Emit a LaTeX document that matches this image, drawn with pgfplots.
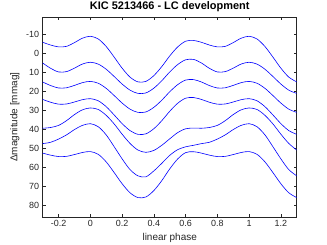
\documentclass[border=0pt]{standalone}
\usepackage{pgfplots}
\usepackage{pgfplotstable}
\pgfplotsset{compat=1.18}
\usepackage{fontspec}
\setmainfont{Liberation Sans}
\definecolor{axgray}{rgb}{0.15,0.15,0.15}
\definecolor{lcblue}{rgb}{0,0,1}
\pgfplotstableread{
x c1 c2 c3 c4 c5 c6 c7
-0.30 -5.82 5.10 15.11 24.31 39.5 47.6 52.61
-0.25 -4.38 7.90 16.99 25.79 39.1 46.9 53.69
-0.20 -3.40 9.81 18.27 26.80 38.0 45.2 54.43
-0.15 -3.68 9.64 18.16 26.70 35.5 43.0 54.32
-0.10 -5.65 7.81 16.91 25.66 32.3 40.2 53.38
-0.05 -7.97 5.65 15.45 24.44 29.8 38.0 52.29
0.00 -9.00 4.70 14.80 23.90 28.8 37.1 51.80
0.05 -7.57 5.68 15.77 25.02 29.6 38.7 53.25
0.10 -3.61 8.39 18.46 28.12 32.7 43.0 57.24
0.15 1.96 12.19 22.24 32.47 37.2 49.2 62.85
0.20 7.79 16.17 26.20 37.03 42.6 55.6 68.73
0.25 12.53 19.41 29.42 40.73 47.5 61.3 73.51
0.30 15.06 21.13 31.14 42.71 51.0 64.6 76.06
0.35 14.79 20.88 30.90 42.45 52.2 65.1 75.74
0.40 11.75 18.37 28.48 39.75 51.2 62.0 72.38
0.45 7.00 14.46 24.72 35.53 48.5 58.0 67.14
0.50 1.40 9.84 20.28 30.57 45.1 53.8 60.96
0.55 -3.35 5.93 16.52 26.35 41.8 50.8 55.72
0.60 -6.39 3.42 14.10 23.65 39.8 49.3 52.36
0.65 -6.80 3.19 13.83 23.30 39.4 48.5 51.87
0.70 -5.82 5.10 15.11 24.31 39.5 47.6 52.61
0.75 -4.38 7.90 16.99 25.79 39.1 46.9 53.69
0.80 -3.40 9.81 18.27 26.80 38.0 45.2 54.43
0.85 -3.68 9.64 18.16 26.70 35.5 43.0 54.32
0.90 -5.65 7.81 16.91 25.66 32.3 40.2 53.38
0.95 -7.97 5.65 15.45 24.44 29.8 38.0 52.29
1.00 -9.00 4.70 14.80 23.90 28.8 37.1 51.80
1.05 -7.57 5.68 15.77 25.02 29.6 38.7 53.25
1.10 -3.61 8.39 18.46 28.12 32.7 43.0 57.24
1.15 1.96 12.19 22.24 32.47 37.2 49.2 62.85
1.20 7.79 16.17 26.20 37.03 42.6 55.6 68.73
1.25 12.53 19.41 29.42 40.73 47.5 61.3 73.51
1.30 15.06 21.13 31.14 42.71 51.0 64.6 76.06
}\data
\pgfplotsset{lc/.style={color=lcblue, solid, line width=0.6pt, smooth, mark=none}}
\begin{document}
\begin{tikzpicture}
\useasboundingbox (0,0) rectangle (327bp,245bp);
\begin{axis}[
  at={(42.7bp,28bp)}, anchor=south west,
  scale only axis, width=254bp, height=199.7bp,
  xmin=-0.3, xmax=1.3, ymin=-19, ymax=86.3,
  y dir=reverse,
  xtick={-0.2,0,0.2,0.4,0.6,0.8,1,1.2},
  ytick={-10,0,10,20,30,40,50,60,70,80},
  /pgf/number format/assume math mode=true,
  xticklabel style={/pgf/number format/.cd, fixed, precision=1},
  tick label style={font=\fontsize{9}{10}\selectfont, text=axgray},
  tick align=inside, tick pos=both,
  major tick length=3bp,
  every tick/.style={axgray, line width=0.4pt},
  axis line style={axgray, line width=0.5pt},
  xlabel={linear phase}, ylabel={Δmagnitude [mmag]},
  label style={font=\fontsize{10}{12}\selectfont, text=axgray},
  title={\textbf{KIC 5213466 - LC development}},
  title style={font=\fontsize{11}{13}\selectfont, yshift=-4bp},
]
\addplot[lc] table[x=x, y=c1] {\data};
\addplot[lc] table[x=x, y=c2] {\data};
\addplot[lc] table[x=x, y=c3] {\data};
\addplot[lc] table[x=x, y=c4] {\data};
\addplot[lc] table[x=x, y=c5] {\data};
\addplot[lc] table[x=x, y=c6] {\data};
\addplot[lc] table[x=x, y=c7] {\data};
\end{axis}
\end{tikzpicture}
\end{document}
